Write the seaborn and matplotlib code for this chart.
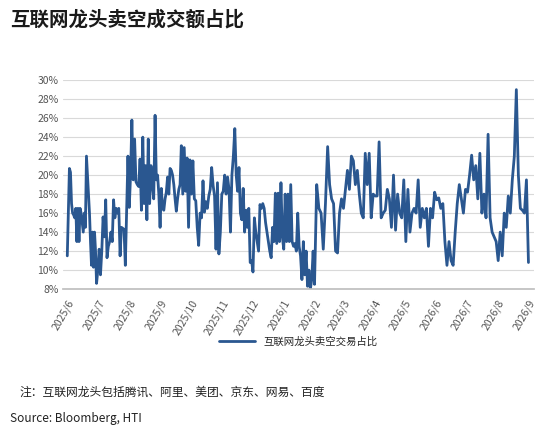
import matplotlib
matplotlib.use("Agg")
import matplotlib.pyplot as plt
import seaborn as sns
import pandas as pd
import numpy as np

values_part1 = [11.5, 16, 20.7, 20.3, 17, 16, 15.8, 15.5, 16.5, 13, 16.5, 13, 16.5, 16, 15, 14, 16, 14.5, 22, 20, 18, 16, 13, 10.5, 14, 10.3, 14, 12, 8.6, 10, 12.2, 9.5, 12, 15.6, 13.5, 17.4, 11.3, 12.5, 13, 14, 13, 17.4, 15.5, 16.5, 16, 16.5, 11.5, 14.5, 14.4, 14.3, 10.5, 16.5, 22, 16.6, 20, 25.8, 19.5, 23.8, 19.3, 19, 18.8, 21.7, 16.3, 24, 17, 21, 15.3, 23.8, 17, 21, 19, 17.5, 26.3, 19.5, 20, 18, 14.5, 18.6, 16.5, 16.3, 17.5, 18.2, 19.8, 18, 20.7, 20.5, 20, 19, 17.5, 16.2, 17.5, 18.5, 19, 23.1, 18, 22.9, 18.3, 21.8, 14.5, 21.6, 18, 21.5, 17.5, 17.3, 14.5, 12.6, 16, 15.5, 19.4, 16.1, 17.2, 16.5, 17.8, 18.5, 20.8, 18.9, 17.8, 12.2, 19.2, 11.7, 14, 18, 18.3, 20, 18, 19.8, 18.5, 14, 20, 22, 24.9, 20, 18.3, 20.8, 16, 15.3, 18.6, 14, 16.3, 14.5, 16.5, 10.8, 11, 9.8, 15.5, 14, 13, 12, 16.9, 16.5, 17, 16.5, 15, 14, 13, 12, 11.3, 14.5, 13, 18.1, 12.8, 18.1, 13, 19.2, 13.5, 12.2]
values_part2 = [18, 13, 18, 13, 19, 13, 12.5, 12.8, 12, 16, 12.5, 11.5, 9, 13, 9.5, 12, 8.3, 10, 8, 9, 12, 8.5, 19, 16.5, 16, 12.2, 17, 23, 19, 17.5, 17, 12, 11.8, 16, 17.5, 16.5, 18.5, 20.5, 18.5, 22, 21.5, 19, 20.5, 18, 16, 15.5, 22.3, 19, 22.3, 15.5, 18, 17.8, 17.8, 23.5, 15.5, 16, 16.3, 18.5, 17.5, 14.5, 20, 14.2, 18, 16, 15.5, 19.5, 13, 18.5, 14, 16, 16.5, 16, 19.5, 14.5, 16.5, 15.5, 16.5, 12.5, 16.5, 15.5, 18.2, 17.4, 17.6, 16.5, 17, 13, 10.5, 13, 11, 10.5, 14, 17, 19, 17.5, 16, 18.5, 18.2, 20, 22.1, 19.5, 21, 17.5, 22.3, 16, 18, 15.5, 24.3, 15.5, 14, 13.5, 13, 11, 14, 11.5, 16, 14.5, 17.8, 16, 19.5, 22, 29, 20, 16.5, 16.3, 16, 19.5, 10.8]
values = values_part1 + values_part2

# anchor peaks/troughs (value, date) used to place points in time
anchor_values = [22, 8.6, 25.8, 26.3, 23.1, 24.9, 8.5, 23, 23.5, 24.3, 29]
anchor_dates = ["2025-06-20", "2025-06-30", "2025-08-04", "2025-08-27", "2025-09-22",
                "2025-11-14", "2026-02-01", "2026-02-14", "2026-04-06", "2026-07-23", "2026-08-20"]

idx = [0] + [values.index(v) for v in anchor_values] + [len(values) - 1]
ts = [pd.Timestamp("2025-06-01")] + [pd.Timestamp(d) for d in anchor_dates] + [pd.Timestamp("2026-09-01")]
t_num = np.interp(np.arange(len(values)), idx, [t.value for t in ts])
dates = pd.to_datetime(t_num.astype("int64"))
df = pd.DataFrame({"date": dates, "share": values})
series_name = "互联网龙头卖空交易占比"

sns.set_theme(style="white")
plt.rcParams['font.family'] = ['Noto Sans CJK SC', 'DejaVu Sans']

fig = plt.figure(figsize=(5.5, 4.38), dpi=100)
ax = fig.add_axes([0.115, 0.34, 0.855, 0.477])
sns.lineplot(data=df, x="date", y="share", ax=ax, color="#2A5790", linewidth=2.0, label=series_name)
ax.set_ylim(8, 30)
ax.set_yticks(range(8, 31, 2))
ax.set_yticklabels([f"{v}%" for v in range(8, 31, 2)], fontsize=7.5, color="#555555")
ax.set_xlim(pd.Timestamp("2025-05-28"), pd.Timestamp("2026-09-06"))
ticks = pd.date_range("2025-06-01", "2026-09-01", freq="MS")
ax.set_xticks(ticks)
ax.set_xticklabels([f"{d.year}/{d.month}" for d in ticks], rotation=60, fontsize=7.5, color="#555555", ha="right", rotation_mode="anchor")
ax.grid(axis="y", color="#D9D9D9", linewidth=0.8)
for s in ["left", "right", "top"]:
    ax.spines[s].set_visible(False)
ax.spines["bottom"].set_color("#BFBFBF")
ax.tick_params(axis="x", length=3, color="#BFBFBF")
ax.tick_params(axis="y", length=0)
ax.set_xlabel(""); ax.set_ylabel("")
ax.legend(loc="upper center", bbox_to_anchor=(0.5, -0.18), frameon=False, fontsize=7.5, handlelength=3.5)

fig.text(0.018, 0.955, "互联网龙头卖空成交额占比", fontsize=14, fontweight="bold", color="#1a1a1a", va="center")
fig.text(0.035, 0.105, "注：互联网龙头包括腾讯、阿里、美团、京东、网易、百度", fontsize=8.5, color="#222222", va="center")
fig.text(0.018, 0.045, "Source: Bloomberg, HTI", fontsize=8.5, color="#222222", va="center")
fig.savefig("out.png", dpi=100)
